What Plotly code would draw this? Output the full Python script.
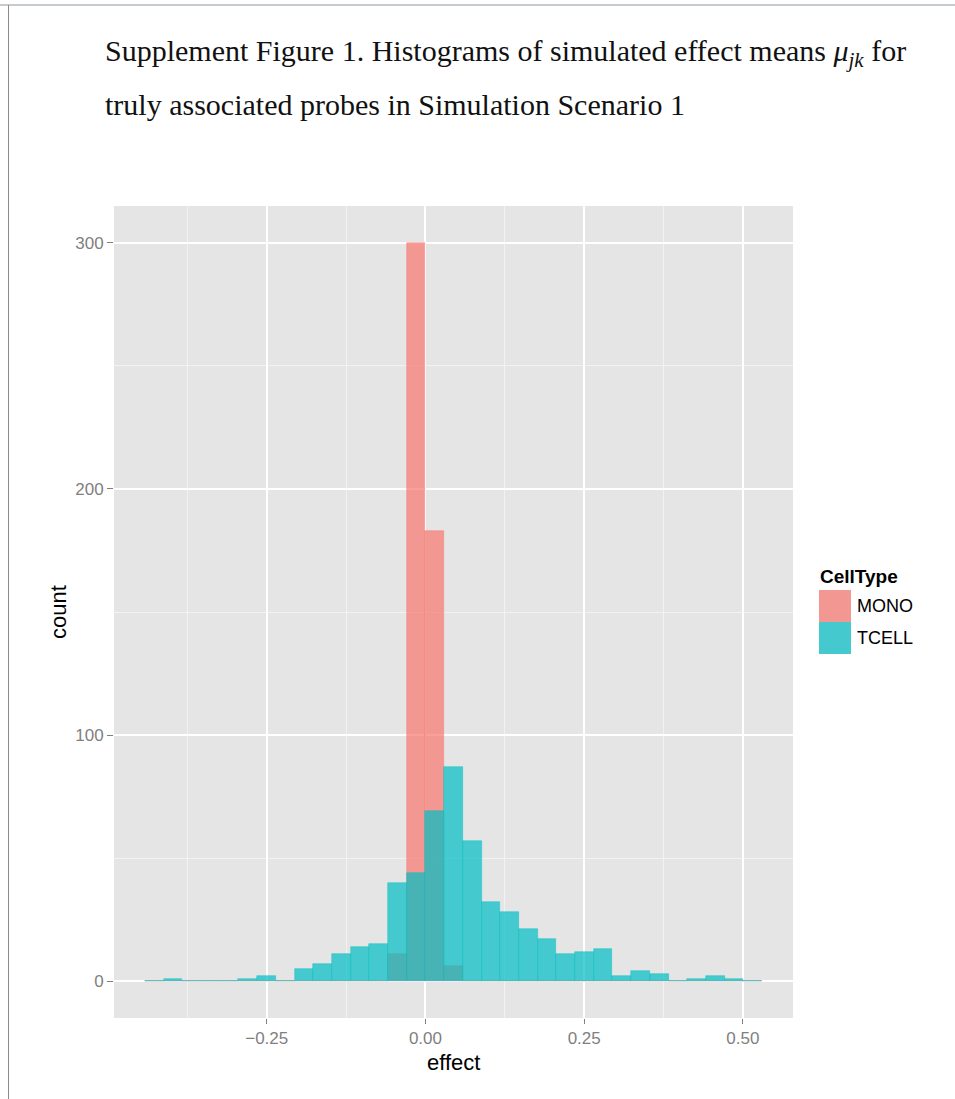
import plotly.graph_objects as go

# Histogram bins: left edge of bin k is k * bin_width
bin_width = 0.02946
bin_index = list(range(-15, 18))

cell_types = ["MONO", "TCELL"]
mono_counts = [0, 0, 0, 0, 0, 0, 0, 0, 0, 0, 0, 0, 0, 11, 300, 183, 6,
               0, 0, 0, 0, 0, 0, 0, 0, 0, 0, 0, 0, 0, 0, 0, 0]
tcell_counts = [0, 1, 0, 0, 0, 1, 2, 0, 5, 7, 11, 14, 15, 40, 44, 69, 87,
                57, 32, 28, 21, 17, 11, 12, 13, 2, 4, 3, 0, 1, 2, 1, 0]

x_ticks = [-0.25, 0.0, 0.25, 0.5]
x_tick_labels = ["\u22120.25", "0.00", "0.25", "0.50"]
y_ticks = [0, 100, 200, 300]

fill_colors = {"MONO": "rgba(248,118,109,0.7)", "TCELL": "rgba(0,191,196,0.7)"}

W, H = 955, 1099
panel_left, panel_right = 114, 793
panel_top, panel_bottom = 206, 1018

centers = [(k + 0.5) * bin_width for k in bin_index]
edges = [k * bin_width for k in bin_index] + [(bin_index[-1] + 1) * bin_width]
x_lo, x_hi = edges[0], edges[-1]
x_pad = 0.05 * (x_hi - x_lo)
y_max = max(max(mono_counts), max(tcell_counts))
y_pad = 0.05 * y_max

fig = go.Figure()
for name, counts in (("MONO", mono_counts), ("TCELL", tcell_counts)):
    fig.add_trace(go.Bar(
        x=centers, y=counts, width=bin_width, name=name,
        marker=dict(color=fill_colors[name],
                    line=dict(color=fill_colors[name], width=0.6)),
        showlegend=False,
    ))


def px_x(p):
    return p / W


def px_y(p):
    return 1 - p / H


grey = "#7f7f7f"
fig.update_layout(
    width=W, height=H,
    margin=dict(l=0, r=0, t=0, b=0),
    paper_bgcolor="white",
    plot_bgcolor="#E5E5E5",
    barmode="overlay",
    bargap=0,
    font=dict(family="Liberation Sans, Arial, sans-serif"),
    xaxis=dict(
        domain=[px_x(panel_left), px_x(panel_right)],
        range=[x_lo - x_pad, x_hi + x_pad],
        tickvals=x_ticks, ticktext=x_tick_labels,
        ticks="outside", ticklen=5, tickwidth=1, tickcolor=grey,
        tickfont=dict(size=17, color=grey),
        showgrid=True, gridcolor="white", gridwidth=1.6,
        minor=dict(tickvals=[-0.375, -0.125, 0.125, 0.375], showgrid=True,
                   gridcolor="#F2F2F2", gridwidth=0.8, ticks=""),
        zeroline=False, showline=False,
    ),
    yaxis=dict(
        domain=[px_y(panel_bottom), px_y(panel_top)],
        range=[-y_pad, y_max + y_pad],
        tickvals=y_ticks,
        ticks="outside", ticklen=6, tickwidth=1, tickcolor=grey,
        tickfont=dict(size=17, color=grey),
        showgrid=True, gridcolor="white", gridwidth=1.6,
        minor=dict(tickvals=[50, 150, 250], showgrid=True,
                   gridcolor="#F2F2F2", gridwidth=0.8, ticks=""),
        zeroline=False, showline=False,
    ),
)

# Page frame lines
fig.add_shape(type="line", xref="paper", yref="paper",
              x0=0, x1=1, y0=px_y(5), y1=px_y(5),
              line=dict(color="#8c96a0", width=1))
fig.add_shape(type="line", xref="paper", yref="paper",
              x0=px_x(8.5), x1=px_x(8.5), y0=px_y(5), y1=0,
              line=dict(color="#8c8c8c", width=1))

# Caption
serif = "Liberation Serif, Times New Roman, serif"
fig.add_annotation(
    xref="paper", yref="paper", x=px_x(103), y=px_y(53),
    xanchor="left", yanchor="middle", showarrow=False,
    text="Supplement Figure 1. Histograms of simulated effect means <i>\u03bc<sub>jk</sub></i> for",
    font=dict(family=serif, size=30, color="#111111"),
)
fig.add_annotation(
    xref="paper", yref="paper", x=px_x(103), y=px_y(105),
    xanchor="left", yanchor="middle", showarrow=False,
    text="truly associated probes in Simulation Scenario 1",
    font=dict(family=serif, size=30, color="#111111"),
)

# Axis titles
fig.add_annotation(
    xref="paper", yref="paper", x=px_x(453), y=px_y(1062),
    xanchor="center", yanchor="middle", showarrow=False,
    text="effect", font=dict(size=22, color="black"),
)
fig.add_annotation(
    xref="paper", yref="paper", x=px_x(58), y=px_y(612),
    xanchor="center", yanchor="middle", showarrow=False, textangle=-90,
    text="count", font=dict(size=22, color="black"),
)

# Legend
fig.add_annotation(
    xref="paper", yref="paper", x=px_x(818), y=px_y(576),
    xanchor="left", yanchor="middle", showarrow=False,
    text="<b>CellType</b>", font=dict(size=19, color="black"),
)
key_top = 590
key_h = 32
for i, name in enumerate(cell_types):
    y0 = key_top + i * key_h
    fig.add_shape(type="rect", xref="paper", yref="paper",
                  x0=px_x(819), x1=px_x(851), y0=px_y(y0), y1=px_y(y0 + key_h),
                  fillcolor="#E5E5E5", line=dict(width=0), layer="above")
    fig.add_shape(type="rect", xref="paper", yref="paper",
                  x0=px_x(819), x1=px_x(851), y0=px_y(y0), y1=px_y(y0 + key_h),
                  fillcolor=fill_colors[name], line=dict(width=0), layer="above")
    fig.add_annotation(
        xref="paper", yref="paper", x=px_x(855), y=px_y(y0 + key_h / 2),
        xanchor="left", yanchor="middle", showarrow=False,
        text=name, font=dict(size=18, color="black"),
    )

fig.write_html("out.html")
